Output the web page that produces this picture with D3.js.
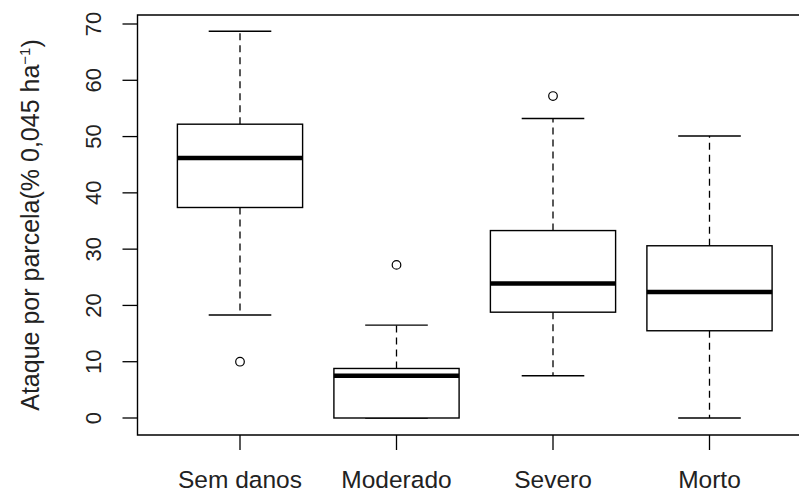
<!DOCTYPE html>
<html>
<head>
<meta charset="utf-8">
<script src="https://cdn.jsdelivr.net/npm/d3@7"></script>
<style>
  html, body { margin: 0; padding: 0; background: #fff; }
  svg { display: block; font-family: "Liberation Sans", Arial, sans-serif; }
</style>
</head>
<body>
<svg id="chart"></svg>
<script>
// Boxplot statistics
const categories = ["Sem danos", "Moderado", "Severo", "Morto"];
const whiskerLow = [18.3, 0, 7.5, 0];
const q1 = [37.4, 0, 18.8, 15.5];
const median = [46.2, 7.5, 23.9, 22.4];
const q3 = [52.2, 8.8, 33.3, 30.6];
const whiskerHigh = [68.7, 16.5, 53.2, 50.1];
const outliers = [[10.0], [27.2], [57.2], []];
const yTicks = [0, 10, 20, 30, 40, 50, 60, 70];

const width = 799, height = 495;
// plot region (R style frame, right side runs off the picture)
const plot = { left: 137.5, top: 15, bottom: 435, right: 812 };

const svg = d3.select("#chart")
    .attr("width", width)
    .attr("height", height);

const x = d3.scaleLinear()
    .domain([1, categories.length])
    .range([240, 709.5]);
const step = x(2) - x(1);
const boxW = step * 0.8;
const capW = boxW * 0.5;

const y = d3.scaleLinear()
    .domain([0, 70])
    .range([418, 24]);

const data = categories.map((c, i) => ({
    name: c, pos: i + 1,
    lo: whiskerLow[i], q1: q1[i], med: median[i], q3: q3[i], hi: whiskerHigh[i],
    out: outliers[i]
}));

const g = svg.append("g");

const boxes = g.selectAll(".box")
    .data(data)
    .enter()
    .append("g")
    .attr("class", "box");

// dashed whiskers
boxes.append("line")
    .attr("x1", d => x(d.pos)).attr("x2", d => x(d.pos))
    .attr("y1", d => y(d.q3)).attr("y2", d => y(d.hi))
    .attr("stroke", "#000").attr("stroke-width", 1.3)
    .attr("stroke-dasharray", "7,5");
boxes.append("line")
    .attr("x1", d => x(d.pos)).attr("x2", d => x(d.pos))
    .attr("y1", d => y(d.q1)).attr("y2", d => y(d.lo))
    .attr("stroke", "#000").attr("stroke-width", 1.3)
    .attr("stroke-dasharray", "7,5");

// staples
boxes.append("line")
    .attr("x1", d => x(d.pos) - capW / 2).attr("x2", d => x(d.pos) + capW / 2)
    .attr("y1", d => y(d.hi)).attr("y2", d => y(d.hi))
    .attr("stroke", "#000").attr("stroke-width", 1.4);
boxes.append("line")
    .attr("x1", d => x(d.pos) - capW / 2).attr("x2", d => x(d.pos) + capW / 2)
    .attr("y1", d => y(d.lo)).attr("y2", d => y(d.lo))
    .attr("stroke", "#000").attr("stroke-width", 1.4);

// boxes
boxes.append("rect")
    .attr("x", d => x(d.pos) - boxW / 2)
    .attr("width", boxW)
    .attr("y", d => y(d.q3))
    .attr("height", d => y(d.q1) - y(d.q3))
    .attr("fill", "#fff")
    .attr("stroke", "#000").attr("stroke-width", 1.4);

// medians
boxes.append("line")
    .attr("x1", d => x(d.pos) - boxW / 2).attr("x2", d => x(d.pos) + boxW / 2)
    .attr("y1", d => y(d.med)).attr("y2", d => y(d.med))
    .attr("stroke", "#000").attr("stroke-width", 4.5);

// outliers
boxes.selectAll("circle")
    .data(d => d.out.map(v => ({ pos: d.pos, v })))
    .enter()
    .append("circle")
    .attr("cx", d => x(d.pos))
    .attr("cy", d => y(d.v))
    .attr("r", 4.3)
    .attr("fill", "none")
    .attr("stroke", "#000").attr("stroke-width", 1.2);

// frame
svg.append("path")
    .attr("d", `M${plot.right},${plot.top}H${plot.left}V${plot.bottom}H${plot.right}`)
    .attr("fill", "none")
    .attr("stroke", "#000").attr("stroke-width", 1.4);

// y axis ticks and labels
const yAxis = svg.append("g");
yAxis.selectAll("line")
    .data(yTicks)
    .enter()
    .append("line")
    .attr("x1", plot.left - 15).attr("x2", plot.left)
    .attr("y1", d => y(d)).attr("y2", d => y(d))
    .attr("stroke", "#000").attr("stroke-width", 1.3);
yAxis.selectAll("text")
    .data(yTicks)
    .enter()
    .append("text")
    .attr("transform", d => `translate(101,${y(d)}) rotate(-90)`)
    .attr("text-anchor", "middle")
    .style("font-size", "22px")
    .style("fill", "#222")
    .text(d => d);

// x axis ticks and labels
const xAxis = svg.append("g");
xAxis.selectAll("line")
    .data(data)
    .enter()
    .append("line")
    .attr("x1", d => x(d.pos)).attr("x2", d => x(d.pos))
    .attr("y1", plot.bottom).attr("y2", plot.bottom + 15)
    .attr("stroke", "#000").attr("stroke-width", 1.3);
xAxis.selectAll("text")
    .data(data)
    .enter()
    .append("text")
    .attr("x", d => x(d.pos))
    .attr("y", 488)
    .attr("text-anchor", "middle")
    .style("font-size", "24.5px")
    .style("fill", "#222")
    .text(d => d.name);

// y axis title
const title = svg.append("text")
    .attr("transform", `translate(38.5,${(plot.top + plot.bottom) / 2}) rotate(-90)`)
    .attr("text-anchor", "middle")
    .style("font-size", "25px")
    .style("fill", "#222");
title.append("tspan").text("Ataque por parcela(% 0,045 ha");
title.append("tspan")
    .attr("dy", "-0.6em")
    .style("font-size", "15px")
    .text("\u22121");
title.append("tspan")
    .attr("dy", "0.4em")
    .text(")");
</script>
</body>
</html>
